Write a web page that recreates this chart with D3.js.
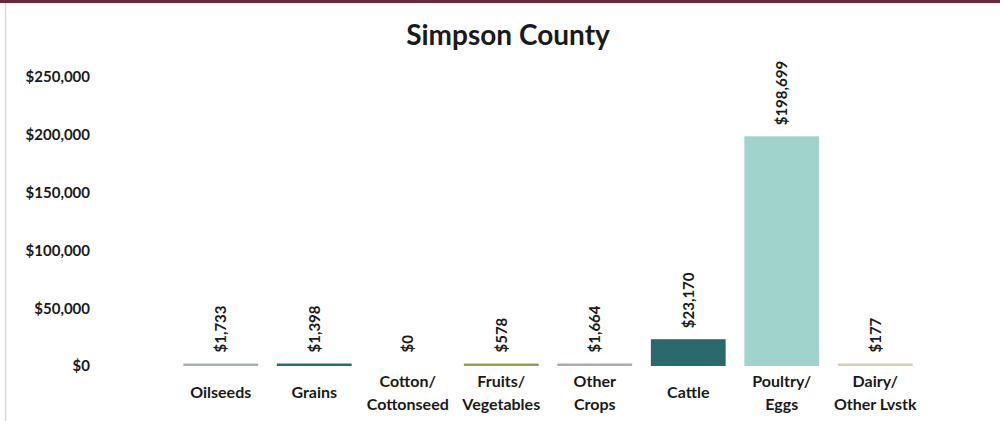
<!DOCTYPE html>
<html>
<head>
<meta charset="utf-8">
<script src="https://cdn.jsdelivr.net/npm/d3@7"></script>
<style>
  html, body { margin: 0; padding: 0; background: #fff; }
  svg text { font-family: Lato, "Open Sans", sans-serif; font-weight: bold; fill: #1a1a1a; }
</style>
</head>
<body>
<div id="chart"></div>
<script>
const categories = ["Oilseeds", "Grains", "Cotton/\nCottonseed", "Fruits/\nVegetables", "Other\nCrops", "Cattle", "Poultry/\nEggs", "Dairy/\nOther Lvstk"];
const values = [1733, 1398, 0, 578, 1664, 23170, 198699, 177];
const yTicks = [0, 50000, 100000, 150000, 200000, 250000];
const barColors = ["#a5afba", "#2b6a6d", "#999999", "#8fa153", "#a7a9bf", "#2a6a6c", "#9fd3cb", "#d8cfae"];

function draw_chart() {
    const width = 1000, height = 421;

    var svg = d3.select("#chart")
        .append("svg")
        .attr("width", width)
        .attr("height", height);

    // frame bits
    svg.append("rect")
        .attr("x", 0).attr("y", 0)
        .attr("width", width).attr("height", 3)
        .attr("fill", "#6d2638");
    svg.append("line")
        .attr("x1", 5.5).attr("x2", 5.5)
        .attr("y1", 3).attr("y2", height)
        .attr("stroke", "#d9d9d9")
        .attr("stroke-width", 1.5);

    svg.append("text")
        .attr("x", 508)
        .attr("y", 45)
        .attr("text-anchor", "middle")
        .style("font-size", "28px")
        .text("Simpson County");

    var x = d3.scaleBand()
        .domain(categories)
        .range([174, 922])
        .paddingInner(0.2)
        .paddingOuter(0.1);
    var y = d3.scaleLinear()
        .domain([0, 250000])
        .range([366, 77]);

    var yAxis = d3.axisLeft(y)
        .tickValues(yTicks)
        .tickSize(0)
        .tickPadding(0)
        .tickFormat(d => "$" + d3.format(",")(d));

    var ya = svg.append("g")
        .attr("transform", "translate(90, 0)")
        .call(yAxis);
    ya.select(".domain").remove();
    ya.selectAll("text")
        .style("font-size", "15px");

    // bars
    svg.selectAll(".bar")
        .data(values)
        .enter().append("rect")
        .attr("class", "bar")
        .attr("x", (d, i) => x(categories[i]))
        .attr("width", x.bandwidth())
        .attr("y", d => Math.min(y(d), y(0) - (d > 0 ? 2.5 : 0)))
        .attr("height", d => d > 0 ? Math.max(y(0) - y(d), 2.5) : 0)
        .attr("fill", (d, i) => barColors[i]);

    // value labels
    svg.selectAll(".vlabel")
        .data(values)
        .enter().append("text")
        .attr("class", "vlabel")
        .attr("transform", (d, i) => {
            const cx = x(categories[i]) + x.bandwidth() / 2;
            const top = Math.min(y(d), y(0) - 2.5);
            return `translate(${cx + 5.5}, ${top - 11}) rotate(-90)`;
        })
        .style("font-size", "15px")
        .text(d => "$" + d3.format(",")(d));

    // category labels
    var xl = svg.selectAll(".xlabel")
        .data(categories)
        .enter().append("text")
        .attr("class", "xlabel")
        .attr("text-anchor", "middle")
        .style("font-size", "16px")
        .attr("x", d => x(d) + x.bandwidth() / 2)
        .attr("y", d => d.includes("\n") ? 387 : 398);
    xl.each(function(d) {
        const lines = d.split("\n");
        const t = d3.select(this);
        lines.forEach((ln, j) => {
            t.append("tspan")
                .attr("x", t.attr("x"))
                .attr("dy", j === 0 ? 0 : 23)
                .text(ln);
        });
    });
}

draw_chart();
</script>
</body>
</html>
